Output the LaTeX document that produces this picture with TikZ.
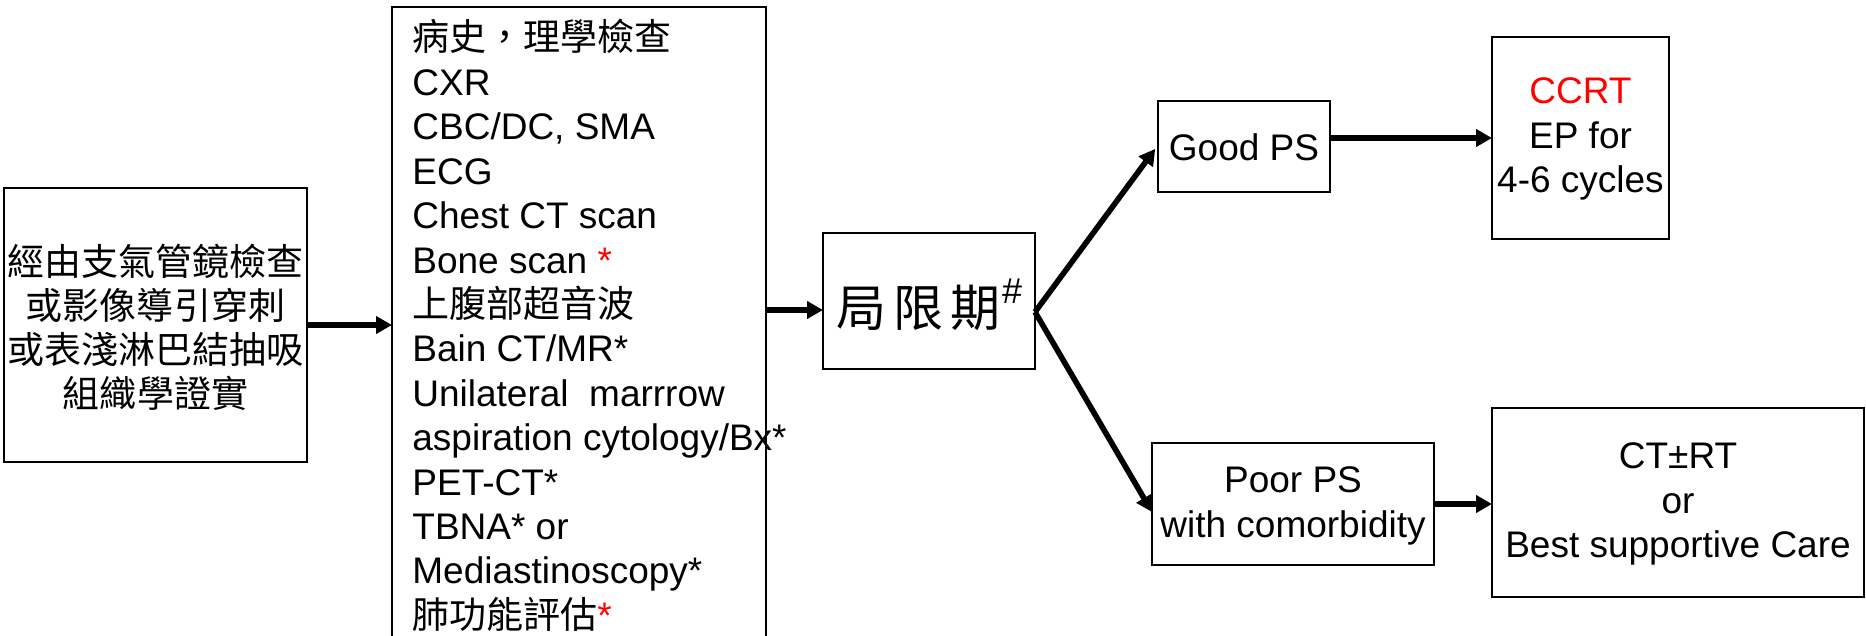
\documentclass[tikz,border=0pt]{standalone}
\usepackage{fontspec}
\setmainfont{Liberation Sans}
\newfontfamily\cjk{Noto Sans CJK TC}
\usetikzlibrary{arrows.meta}
\begin{document}
\begin{tikzpicture}[x=0.5pt,y=-0.5pt,
  box/.style={draw, line width=0.9pt, inner sep=0pt, outer sep=0pt},
  conn/.style={line width=2.8pt, -{Triangle[length=8pt,width=8.5pt]}},
  txt/.style={font=\fontsize{18.5pt}{22.2pt}\selectfont, inner sep=0pt, align=center},
  cjktxt/.style={font=\cjk\fontsize{18.5pt}{22pt}\selectfont, inner sep=0pt, align=center},
  ltxt/.style={font=\fontsize{18.5pt}{22.2pt}\selectfont, inner sep=0pt, anchor=base west},
]
\clip (0,0) rectangle (1866,636);
\fill[white] (0,0) rectangle (1866,636);

% boxes
\node[box, minimum width=151.5pt, minimum height=137pt] (b1) at (155.5,325) {};
\node[box, minimum width=187pt, minimum height=326.5pt] (b2) at (579,333.5) {};
\node[box, minimum width=106pt, minimum height=68pt] (b3) at (929,301) {};
\node[box, minimum width=86pt, minimum height=45.5pt] (good) at (1244,146.5) {};
\node[box, minimum width=88.5pt, minimum height=101pt] (ccrt) at (1580.5,138) {};
\node[box, minimum width=141pt, minimum height=61pt] (poor) at (1293,504) {};
\node[box, minimum width=186pt, minimum height=94.5pt] (ct) at (1678,502.5) {};

% texts
\node[cjktxt] (t1) at (155.5,327.5) {經由支氣管鏡檢查\\或影像導引穿刺\\或表淺淋巴結抽吸\\組織學證實};

\foreach \t [count=\i from 0] in {
  {{\cjk 病史，理學檢查}},
  {CXR},
  {CBC/DC, SMA},
  {ECG},
  {Chest CT scan},
  {Bone scan {\color{red}*}},
  {{\cjk 上腹部超音波}},
  {Bain CT/MR*},
  {Unilateral\ \ marrrow},
  {aspiration cytology/Bx*},
  {PET-CT*},
  {TBNA* or},
  {Mediastinoscopy*},
  {{\cjk 肺功能評估}{\color{red}*}}} {
  \node[ltxt] (l\i) at (412,{51+44.4*\i}) {\t};
}

\node[inner sep=0pt, anchor=base] (t3) at (929,326)
  {{\cjk\fontsize{25pt}{28pt}\selectfont 局\hspace{3.5pt}限\hspace{3.5pt}期}\hspace{1pt}\raisebox{11.5pt}{\fontsize{18pt}{20pt}\selectfont\#}};

\node[txt] (tgood) at (1244,147) {Good PS};
\node[txt] (tccrt) at (1580.5,139) {{\color{red}CCRT}\\EP for\\4-6 cycles};
\node[txt] (tpoor) at (1293,506) {Poor PS\\with comorbidity};
\node[txt] (tct) at (1678,504) {CT±RT\\or\\Best supportive Care};

% connectors
\coordinate (apex) at ([yshift=-5.5pt]b3.east);
\draw[conn] (b1.east) -- (b1.east -| b2.west);
\draw[conn] ([yshift=-4.5pt]b3.west -| b2.east) -- ([yshift=-4.5pt]b3.west);
\draw[conn, shorten >=-1pt] (apex) -- ([yshift=-2pt,xshift=-2pt]good.west);
\draw[conn] (apex) -- ([yshift=-4pt]poor.west);
\draw[conn] (ccrt.west -| good.east) -- (ccrt.west);
\draw[conn] (poor.east) -- (poor.east -| ct.west);
\end{tikzpicture}
\end{document}
